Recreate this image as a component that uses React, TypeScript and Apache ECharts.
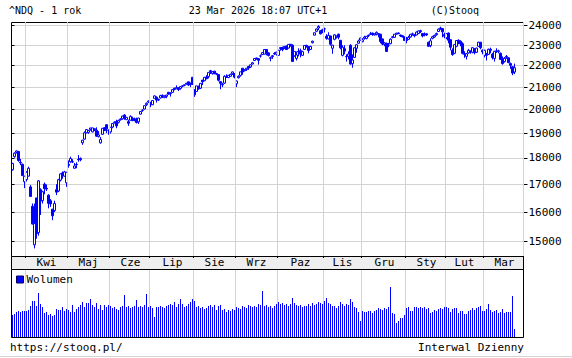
import React, { useEffect, useRef } from 'react';
import * as echarts from 'echarts';

// Month names shown on the time axis (Polish), one per data month
const monthNames = ['Mar', 'Kwi', 'Maj', 'Cze', 'Lip', 'Sie', 'Wrz', 'Paz', 'Lis', 'Gru', 'Sty', 'Lut', 'Mar'];
const showMonthLabel = [false, true, true, true, true, true, true, true, true, true, true, true, true];

// Daily candles: [open, close, low, high]
const mar25 = [
  [17540, 17784, 17510, 17810], [18050, 18188, 18010, 18220], [18220, 18272, 18170, 18300], [18250, 17899, 17850, 18280],
  [17830, 17804, 17720, 17960], [17750, 17323, 17300, 17780], [17090, 17299, 16855, 17310],
];
const apr25 = [
  [17170, 17449, 17100, 17490], [17300, 17601, 17290, 17660], [16900, 16551, 16540, 16970], [16200, 15588, 15575, 16300],
  [14900, 15603, 14784, 16300], [16500, 15268, 15100, 16500], [15300, 17125, 15200, 17150], [16800, 16387, 15900, 16850],
  [16400, 16724, 16300, 16760], [17000, 16832, 16630, 17060], [16850, 16823, 16750, 16990], [16600, 16307, 16130, 16630],
  [16400, 16286, 16180, 16460], [16100, 15871, 15720, 16110], [16050, 16300, 16000, 16400], [16800, 16708, 16600, 17000],
  [16750, 17166, 16710, 17200], [17150, 17383, 17100, 17400], [17420, 17366, 17200, 17480], [17300, 17461, 17280, 17500],
  [17050, 17446, 16900, 17460],
];
const may25 = [
  [17750, 17711, 17620, 17900], [17850, 17978, 17810, 18050], [17850, 17844, 17800, 17950], [17600, 17690, 17580, 17800],
  [17750, 17738, 17600, 17830], [17950, 17929, 17850, 18110], [17980, 17929, 17870, 18020], [18600, 18708, 18520, 18720],
  [18750, 19010, 18730, 19070], [19010, 19146, 18990, 19160], [19030, 19112, 18970, 19130], [19150, 19211, 19100, 19220],
  [19050, 19215, 19030, 19220], [19180, 19143, 19080, 19190], [19120, 18873, 18850, 19240], [18850, 18925, 18820, 19080],
  [18600, 18737, 18570, 18840], [18950, 19199, 18920, 19210], [19220, 19101, 19090, 19250], [19350, 19175, 19000, 19350],
  [19120, 19114, 18930, 19150],
];
const jun25 = [
  [19050, 19243, 18980, 19250], [19250, 19399, 19200, 19420], [19430, 19460, 19400, 19490], [19480, 19298, 19200, 19560],
  [19450, 19530, 19400, 19560], [19560, 19591, 19520, 19620], [19600, 19715, 19560, 19730], [19760, 19615, 19560, 19800],
  [19560, 19662, 19550, 19680], [19480, 19407, 19300, 19560], [19540, 19701, 19530, 19750], [19620, 19521, 19500, 19690],
  [19540, 19546, 19490, 19650], [19600, 19447, 19400, 19650], [19470, 19631, 19380, 19640], [19800, 19913, 19780, 19930],
  [19960, 19973, 19900, 20010], [20020, 20168, 20000, 20170], [20210, 20273, 20150, 20310], [20330, 20370, 20280, 20400],
];
const jul25 = [
  [20300, 20202, 20100, 20340], [20210, 20393, 20190, 20400], [20490, 20601, 20480, 20620], [20540, 20412, 20300, 20580],
  [20440, 20418, 20370, 20480], [20510, 20611, 20480, 20650], [20620, 20630, 20510, 20660], [20520, 20586, 20500, 20630],
  [20580, 20640, 20500, 20650], [20760, 20677, 20660, 20780], [20700, 20730, 20570, 20760], [20760, 20885, 20740, 20900],
  [20950, 20896, 20850, 20960], [20920, 20974, 20910, 21080], [20970, 20892, 20820, 20980], [20940, 21020, 20880, 21030],
  [21040, 21058, 20990, 21090], [21080, 21108, 21040, 21110], [21150, 21179, 21110, 21190], [21240, 21098, 21050, 21250],
  [21150, 21130, 21000, 21210], [21450, 21122, 21100, 21460],
];
const aug25 = [
  [20880, 20650, 20560, 20900], [20800, 21053, 20780, 21060], [21020, 20916, 20880, 21070], [20950, 21169, 20910, 21180],
  [21320, 21242, 21090, 21330], [21290, 21450, 21270, 21460], [21460, 21385, 21360, 21550], [21480, 21681, 21400, 21690],
  [21760, 21713, 21610, 21800], [21620, 21710, 21580, 21740], [21740, 21623, 21590, 21750], [21600, 21629, 21550, 21660],
  [21580, 21315, 21260, 21600], [21250, 21172, 20900, 21260], [21120, 21100, 21000, 21200], [21180, 21497, 21140, 21550],
  [21460, 21449, 21430, 21590], [21440, 21544, 21410, 21560], [21500, 21590, 21480, 21620], [21620, 21705, 21560, 21720],
  [21630, 21456, 21400, 21640],
];
const sep25 = [
  [21150, 21280, 21000, 21300], [21430, 21498, 21400, 21540], [21540, 21707, 21480, 21710], [21880, 21700, 21570, 21880],
  [21760, 21799, 21730, 21840], [21820, 21879, 21750, 21880], [21960, 21886, 21800, 21990], [21940, 22043, 21890, 22060],
  [22080, 22141, 22060, 22180], [22250, 22349, 22220, 22350], [22370, 22333, 22290, 22390], [22340, 22261, 22050, 22370],
  [22470, 22471, 22390, 22540], [22540, 22631, 22520, 22650], [22560, 22789, 22550, 22800], [22790, 22573, 22500, 22800],
  [22620, 22498, 22450, 22660], [22360, 22385, 22210, 22440], [22440, 22484, 22330, 22510], [22570, 22592, 22520, 22660],
  [22560, 22660, 22490, 22670],
];
const oct25 = [
  [22500, 22755, 22490, 22760], [22880, 22845, 22730, 22900], [22890, 22780, 22700, 22930], [22880, 22942, 22810, 22950],
  [22960, 22788, 22760, 22980], [22860, 23044, 22840, 23050], [23050, 23025, 22930, 23060], [23000, 22204, 22180, 23050],
  [22480, 22695, 22430, 22700], [22350, 22522, 22250, 22690], [22700, 22670, 22450, 22850], [22730, 22563, 22400, 22830],
  [22500, 22680, 22470, 22730], [22790, 22991, 22780, 23000], [22990, 22953, 22880, 23030], [22940, 22740, 22600, 22950],
  [22790, 22942, 22770, 22970], [23130, 23205, 23090, 23230], [23510, 23637, 23500, 23640], [23710, 23827, 23680, 23860],
  [23880, 23958, 23770, 24020], [23740, 23581, 23550, 23760], [23790, 23725, 23610, 23840],
];
const nov25 = [
  [23840, 23835, 23650, 23900], [23450, 23349, 23280, 23560], [23320, 23500, 23300, 23660], [23470, 23054, 22980, 23480],
  [22850, 23005, 22580, 23020], [23300, 23528, 23250, 23560], [23420, 23468, 23340, 23480], [23560, 23407, 23300, 23590],
  [23250, 22871, 22800, 23260], [22500, 22900, 22450, 23000], [22830, 22709, 22550, 23000], [22450, 22433, 22200, 22550],
  [22460, 22564, 22300, 22700], [23000, 22078, 22050, 23050], [22100, 22273, 21900, 22550], [22400, 22872, 22380, 22900],
  [22850, 23025, 22630, 23050], [23100, 23214, 23080, 23280], [23260, 23366, 23240, 23370],
];
const dec25 = [
  [23180, 23275, 23150, 23360], [23350, 23414, 23280, 23480], [23340, 23454, 23300, 23470], [23480, 23505, 23410, 23540],
  [23550, 23578, 23520, 23680], [23620, 23545, 23480, 23640], [23520, 23576, 23490, 23600], [23570, 23654, 23500, 23700],
  [23540, 23593, 23400, 23620], [23560, 23195, 23100, 23580], [23320, 23057, 23000, 23330], [23040, 23111, 22950, 23160],
  [23100, 22693, 22680, 23130], [23000, 23006, 22900, 23120], [23080, 23307, 23050, 23350], [23400, 23428, 23350, 23470],
  [23400, 23562, 23380, 23570], [23560, 23613, 23540, 23630], [23620, 23593, 23560, 23650], [23520, 23474, 23420, 23540],
  [23480, 23419, 23400, 23520], [23420, 23242, 23230, 23440],
];
const jan26 = [
  [23300, 23240, 23100, 23420], [23300, 23400, 23260, 23480], [23420, 23550, 23380, 23580], [23560, 23580, 23480, 23640],
  [23530, 23480, 23400, 23570], [23520, 23670, 23500, 23700], [23600, 23730, 23560, 23750], [23740, 23700, 23620, 23790],
  [23600, 23470, 23400, 23620], [23560, 23530, 23450, 23650], [23580, 23520, 23470, 23620], [23150, 22950, 22920, 23180],
  [22980, 23220, 22900, 23350], [23350, 23430, 23300, 23480], [23420, 23500, 23380, 23540], [23540, 23600, 23480, 23640],
  [23700, 23820, 23680, 23850], [23880, 23860, 23780, 23950], [23850, 23680, 23400, 23870], [23550, 23460, 23350, 23640],
];
const feb26 = [
  [23380, 23590, 23300, 23620], [23620, 23250, 23100, 23650], [23280, 22900, 22750, 23300], [22750, 22540, 22480, 22850],
  [22600, 23030, 22560, 23050], [22950, 23240, 22900, 23260], [23250, 23100, 23050, 23300], [23200, 23070, 22950, 23250],
  [23080, 22600, 22550, 23150], [22580, 22550, 22380, 22700], [22450, 22580, 22300, 22620], [22620, 22750, 22580, 22820],
  [22700, 22680, 22580, 22750], [22650, 22880, 22600, 22900], [22820, 22630, 22550, 22850], [22650, 22860, 22620, 22880],
  [22950, 23150, 22920, 23180], [23150, 22880, 22800, 23170], [22750, 22670, 22550, 22800],
];
const mar26 = [
  [22500, 22750, 22400, 22780], [22550, 22500, 22250, 22620], [22550, 22800, 22520, 22830], [22800, 22750, 22600, 22880],
  [22550, 22400, 22300, 22620], [22350, 22700, 22200, 22720], [22720, 22700, 22620, 22850], [22680, 22720, 22600, 22780],
  [22600, 22300, 22280, 22640], [22350, 22100, 22050, 22450], [22200, 22350, 22150, 22420], [22400, 22450, 22330, 22520],
  [22380, 22150, 22120, 22400], [22100, 22020, 21850, 22150], [21950, 21650, 21550, 21980], [21700, 21900, 21600, 22100],
];
const candleMonths = [mar25, apr25, may25, jun25, jul25, aug25, sep25, oct25, nov25, dec25, jan26, feb26, mar26];

// Daily volume (relative units)
const volMar25 = [22, 23, 25, 26, 25, 26, 26];
const volApr25 = [26, 27, 31, 36, 36, 31, 44, 33, 30, 24, 25, 22, 23, 21, 22, 28, 27, 27, 30, 26, 28];
const volMay25 = [27, 25, 32, 25, 28, 30, 32, 35, 30, 34, 34, 38, 32, 30, 34, 28, 32, 27, 32, 30, 32];
const volJun25 = [31, 29, 30, 28, 27, 30, 31, 42, 30, 31, 29, 30, 31, 37, 30, 31, 30, 32, 43, 30];
const volJul25 = [31, 29, 20, 30, 30, 31, 30, 29, 31, 32, 33, 32, 35, 30, 33, 38, 33, 30, 31, 33, 35, 38];
const volAug25 = [36, 30, 31, 29, 30, 28, 29, 31, 32, 30, 32, 27, 31, 32, 27, 28, 25, 27, 26, 28, 27];
const volSep25 = [30, 29, 28, 31, 30, 29, 32, 31, 30, 31, 30, 33, 32, 46, 31, 32, 30, 31, 29, 31, 33];
const volOct25 = [35, 33, 34, 32, 33, 31, 33, 39, 34, 32, 31, 32, 30, 31, 31, 33, 31, 34, 32, 33, 35, 34, 33];
const volNov25 = [36, 39, 34, 33, 31, 31, 29, 31, 35, 33, 31, 33, 32, 38, 35, 30, 29, 25, 16];
const volDec25 = [26, 25, 25, 26, 26, 24, 26, 27, 29, 28, 27, 29, 28, 30, 50, 24, 23, 14, 16, 19, 19, 22];
const volJan26 = [29, 30, 26, 26, 30, 30, 29, 30, 29, 30, 28, 29, 24, 25, 27, 26, 28, 29, 28, 30];
const volFeb26 = [30, 29, 25, 28, 29, 29, 24, 26, 26, 23, 23, 26, 27, 29, 27, 29, 30, 31, 26];
const volMar26 = [26, 28, 33, 27, 25, 26, 27, 24, 25, 28, 24, 25, 25, 25, 41, 8];
const volumeMonths = [volMar25, volApr25, volMay25, volJun25, volJul25, volAug25, volSep25, volOct25, volNov25, volDec25, volJan26, volFeb26, volMar26];

const priceTicks = [15000, 16000, 17000, 18000, 19000, 20000, 21000, 22000, 23000, 24000];
const priceMin = 14541;
const priceMax = 24194;
const volumeMax = 68;
const padCount = 4;

const FONT = 'DejaVu Sans Mono';
const BLUE = '#0000ff';
const GRID = '#d3d3d3';

export default function App() {
  const ref = useRef<HTMLDivElement>(null);
  useEffect(() => {
    if (!ref.current) return;
    const chart = echarts.init(ref.current, null, { renderer: 'svg' });

    const categories: string[] = [];
    const monthStart: number[] = [];
    const candles: number[][] = [];
    const volumes: number[] = [];
    candleMonths.forEach((m, mi) => {
      monthStart.push(categories.length);
      m.forEach((c, k) => {
        categories.push(`${mi}-${k}`);
        candles.push(c);
        volumes.push(volumeMonths[mi][k]);
      });
    });
    for (let p = 0; p < padCount; p++) categories.push(`pad${p}`);
    const total = categories.length;
    const boundarySet = new Set(monthStart.slice(1));
    const labelAt = new Map<number, string>();
    monthStart.forEach((s, mi) => {
      if (!showMonthLabel[mi]) return;
      const end = mi + 1 < monthStart.length ? monthStart[mi + 1] - 1 : total - 1;
      labelAt.set(Math.round((s + end) / 2), monthNames[mi]);
    });
    const isBoundary = (i: number) => boundarySet.has(i);

    chart.setOption({
      animation: false,
      backgroundColor: '#ffffff',
      grid: [
        { left: 11.5, top: 22, width: 512, height: 234, show: false },
        { left: 11.5, top: 269, width: 512, height: 68, show: false },
      ],
      legend: {
        data: ['Wolumen'],
        left: 16,
        top: 274,
        padding: 0,
        icon: 'rect',
        itemWidth: 7,
        itemHeight: 7,
        itemStyle: { borderColor: '#000060', borderWidth: 1 },
        textStyle: { fontFamily: FONT, fontSize: 11, color: '#000', padding: [0, 0, 0, -2] },
      },
      xAxis: [
        {
          type: 'category', gridIndex: 0, data: categories, boundaryGap: true, position: 'bottom', z: 10,
          axisLine: { show: false },
          axisTick: { show: true, length: 2, interval: isBoundary, lineStyle: { color: '#000' } },
          axisLabel: {
            interval: (i: number) => labelAt.has(i),
            formatter: (_v: string, i: number) => labelAt.get(i) ?? '',
            fontFamily: FONT, fontSize: 11, color: '#000', margin: 1,
          },
          splitLine: { show: true, interval: isBoundary, lineStyle: { color: GRID, width: 1 } },
        },
        {
          type: 'category', gridIndex: 0, data: categories, boundaryGap: true, position: 'top',
          axisLine: { show: false },
          axisTick: { show: true, inside: true, length: 3, interval: isBoundary, lineStyle: { color: '#000' } },
          axisLabel: { show: false },
          splitLine: { show: false },
        },
        {
          type: 'category', gridIndex: 1, data: categories, boundaryGap: true,
          axisLine: { show: false }, axisTick: { show: false }, axisLabel: { show: false },
          splitLine: { show: true, interval: isBoundary, lineStyle: { color: GRID, width: 1 } },
        },
      ],
      yAxis: [
        {
          type: 'log', logBase: 10, gridIndex: 0, position: 'right', min: priceMin, max: priceMax,
          axisLine: { show: false },
          axisTick: { show: true, length: 4, customValues: priceTicks, lineStyle: { color: '#000' } },
          axisLabel: {
            customValues: priceTicks, fontFamily: FONT, fontSize: 11, color: '#000', margin: 5,
            formatter: (v: number) => String(Math.round(v)),
          },
          splitLine: { show: true, lineStyle: { color: GRID, width: 1 } },
        },
        {
          type: 'log', logBase: 10, gridIndex: 0, position: 'left', min: priceMin, max: priceMax,
          axisLine: { show: false },
          axisTick: { show: true, inside: true, length: 3, customValues: priceTicks, lineStyle: { color: '#000' } },
          axisLabel: { show: false },
          splitLine: { show: false },
        },
        { type: 'value', gridIndex: 1, min: 0, max: volumeMax, show: false, splitLine: { show: false } },
      ],
      series: [
        {
          type: 'candlestick', name: '^NDQ', xAxisIndex: 0, yAxisIndex: 0, data: candles, barWidth: 2,
          itemStyle: { color: '#ffffff', color0: BLUE, borderColor: BLUE, borderColor0: BLUE, borderWidth: 1 },
        },
        {
          type: 'bar', name: 'Wolumen', xAxisIndex: 2, yAxisIndex: 2, data: volumes, barWidth: 1,
          itemStyle: { color: BLUE },
        },
      ],
      graphic: [
        { type: 'rect', z: 5, shape: { x: 11.5, y: 22.5, width: 512, height: 234 }, style: { fill: 'none', stroke: '#000', lineWidth: 1 } },
        { type: 'rect', z: 1, shape: { x: 11.5, y: 256.5, width: 512, height: 13 }, style: { fill: '#eeeeee', stroke: '#000', lineWidth: 1 } },
        { type: 'rect', z: 5, shape: { x: 11.5, y: 269.5, width: 512, height: 68 }, style: { fill: 'none', stroke: '#000', lineWidth: 1 } },
        { type: 'text', x: 9, y: 10.5, style: { text: '^NDQ - 1 rok', font: `10px "${FONT}"`, fill: '#000', align: 'left', verticalAlign: 'middle' } },
        { type: 'text', x: 258, y: 10.5, style: { text: '23 Mar 2026 18:07 UTC+1', font: `10px "${FONT}"`, fill: '#000', align: 'center', verticalAlign: 'middle' } },
        { type: 'text', x: 479, y: 10.5, style: { text: '(C)Stooq', font: `10px "${FONT}"`, fill: '#000', align: 'right', verticalAlign: 'middle' } },
        { type: 'text', x: 10, y: 347, style: { text: 'https://stooq.pl/', font: `11px "${FONT}"`, fill: '#000', align: 'left', verticalAlign: 'middle' } },
        { type: 'text', x: 524, y: 347, style: { text: 'Interwal Dzienny', font: `11px "${FONT}"`, fill: '#000', align: 'right', verticalAlign: 'middle' } },
        { type: 'line', shape: { x1: 0, y1: 356.5, x2: 572, y2: 356.5 }, style: { stroke: '#d3d3d3', lineWidth: 1 } },
      ],
    });
    return () => chart.dispose();
  }, []);
  return (
    <div
      ref={ref}
      style={{ position: 'fixed', left: 0, top: 0, width: 572, height: 358, background: '#fff' }}
    />
  );
}
